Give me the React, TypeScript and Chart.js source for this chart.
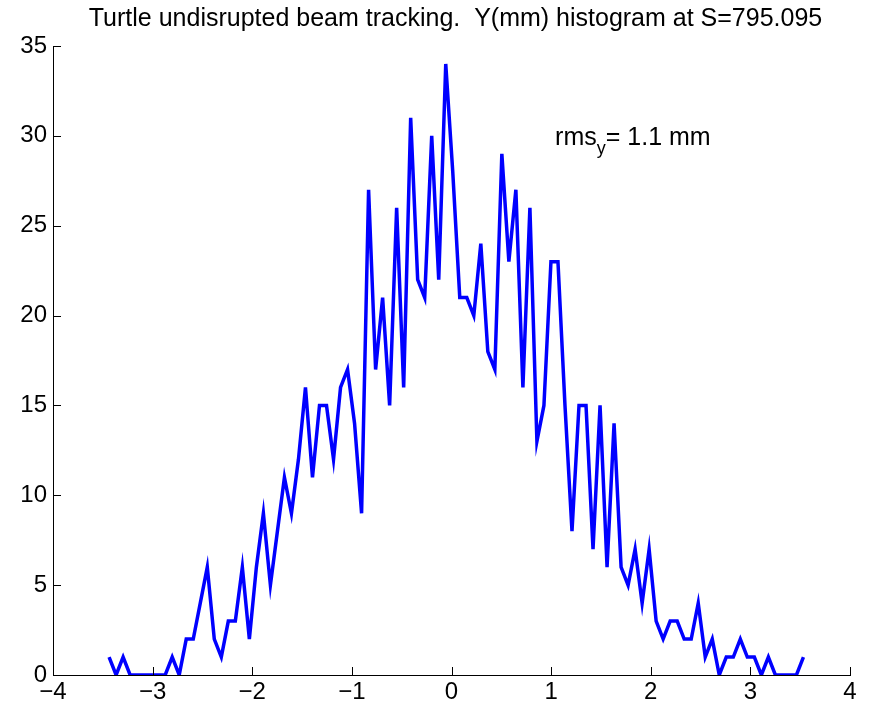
import React, { useEffect, useRef } from "react";
import { Chart, registerables } from "chart.js";

Chart.register(...registerables);

// Histogram of vertical beam position Y (mm), one count per bin
const BIN_FIRST_CENTER = -3.437;
const BIN_WIDTH = 0.0704;
const COUNTS = [
  1, 0, 1, 0, 0, 0, 0, 0, 0, 1,
  0, 2, 2, 4, 6, 2, 1, 3, 3, 6,
  2, 6, 9, 5, 8, 11, 9, 12, 16, 11,
  15, 15, 12, 16, 17, 14, 9, 27, 17, 21,
  15, 26, 16, 31, 22, 21, 30, 22, 34, 28,
  21, 21, 20, 24, 18, 17, 29, 23, 27, 16,
  26, 13, 15, 23, 23, 15, 8, 15, 15, 7,
  15, 6, 14, 6, 5, 7, 4, 7, 3, 2,
  3, 3, 2, 2, 4, 1, 2, 0, 1, 1,
  2, 1, 1, 0, 1, 0, 0, 0, 0, 1,
];

const X_TICKS = [-4, -3, -2, -1, 0, 1, 2, 3, 4];
const Y_TICKS = [0, 5, 10, 15, 20, 25, 30, 35];

const TITLE = "Turtle undisrupted beam tracking.  Y(mm) histogram at S=795.095";
const RMS_LABEL = { base: "rms", sub: "y", rest: "= 1.1 mm", x: 1.04, y: 30 };

const FONT = '"Liberation Sans", Arial, Helvetica, sans-serif';

const fmt = (v: number) => (v < 0 ? "\u2212" + Math.abs(v) : String(v));

const overlay = {
  id: "overlay",
  afterDraw(chart: any) {
    const { ctx, chartArea } = chart;
    const xs = chart.scales.x;
    const ys = chart.scales.y;
    ctx.save();
    // inward tick marks
    ctx.strokeStyle = "#000";
    ctx.lineWidth = 1;
    ctx.beginPath();
    for (const v of X_TICKS) {
      const px = Math.round(xs.getPixelForValue(v)) + 0.5;
      ctx.moveTo(px, chartArea.bottom);
      ctx.lineTo(px, chartArea.bottom - 8);
    }
    for (const v of Y_TICKS) {
      const py = Math.round(ys.getPixelForValue(v)) + 0.5;
      ctx.moveTo(chartArea.left, py);
      ctx.lineTo(chartArea.left + 8, py);
    }
    ctx.stroke();

    // title
    ctx.fillStyle = "#000";
    ctx.font = `25px ${FONT}`;
    ctx.textAlign = "center";
    ctx.textBaseline = "alphabetic";
    ctx.fillText(TITLE, (chartArea.left + chartArea.right) / 2 + 4, 26);

    // rms annotation with subscript
    ctx.textAlign = "left";
    const x0 = xs.getPixelForValue(RMS_LABEL.x);
    const base = ys.getPixelForValue(RMS_LABEL.y) + 9;
    ctx.font = `25px ${FONT}`;
    ctx.fillText(RMS_LABEL.base, x0, base);
    const w1 = ctx.measureText(RMS_LABEL.base).width;
    ctx.font = `18px ${FONT}`;
    ctx.fillText(RMS_LABEL.sub, x0 + w1, base + 9);
    const w2 = ctx.measureText(RMS_LABEL.sub).width;
    ctx.font = `25px ${FONT}`;
    ctx.fillText(RMS_LABEL.rest, x0 + w1 + w2, base);
    ctx.restore();
  },
};

export default function App() {
  const canvasRef = useRef<HTMLCanvasElement | null>(null);

  useEffect(() => {
    if (!canvasRef.current) return;
    const points = COUNTS.map((c, i) => ({ x: BIN_FIRST_CENTER + i * BIN_WIDTH, y: c }));
    const chart = new Chart(canvasRef.current, {
      type: "line",
      data: {
        datasets: [
          {
            data: points,
            borderColor: "#0000ff",
            borderWidth: 3.5,
            pointRadius: 0,
            tension: 0,
            fill: false,
          },
        ],
      },
      options: {
        animation: false,
        responsive: false,
        devicePixelRatio: 1,
        layout: { padding: { top: 46, right: 24, left: 0, bottom: 0 } },
        plugins: { legend: { display: false }, tooltip: { enabled: false }, title: { display: false } },
        scales: {
          x: {
            type: "linear",
            min: -4,
            max: 4,
            afterFit: (s: any) => {
              s.height = 36;
            },
            afterBuildTicks: (s: any) => {
              s.ticks = X_TICKS.map((v) => ({ value: v }));
            },
            grid: { display: true, drawOnChartArea: false, drawTicks: false },
            border: { display: true, color: "#000", width: 1 },
            ticks: {
              autoSkip: false,
              maxRotation: 0,
              padding: 3,
              color: "#000",
              font: { family: FONT, size: 24 },
              callback: (v: any) => fmt(Number(v)),
            },
          },
          y: {
            type: "linear",
            min: 0,
            max: 35,
            afterFit: (s: any) => {
              s.width = 53;
            },
            afterBuildTicks: (s: any) => {
              s.ticks = Y_TICKS.map((v) => ({ value: v }));
            },
            grid: { display: true, drawOnChartArea: false, drawTicks: false },
            border: { display: true, color: "#000", width: 1 },
            ticks: {
              padding: 6,
              color: "#000",
              font: { family: FONT, size: 24 },
              callback: (v: any) => fmt(Number(v)),
            },
          },
        },
      },
      plugins: [overlay],
    });
    return () => chart.destroy();
  }, []);

  return (
    <div style={{ position: "fixed", left: 0, top: 0, width: 874, height: 711, background: "#fff" }}>
      <canvas ref={canvasRef} width={874} height={711} />
    </div>
  );
}
